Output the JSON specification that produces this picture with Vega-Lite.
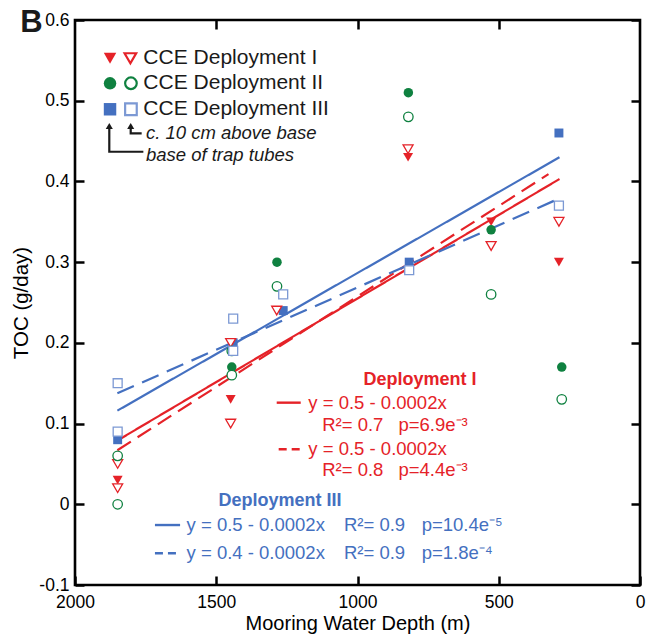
{
  "$schema": "https://vega.github.io/schema/vega-lite/v6.json",
  "width": 565,
  "height": 565,
  "autosize": {"type": "none"},
  "padding": {"left": 75, "top": 20, "right": 10, "bottom": 50},
  "background": "white",
  "config": {
    "view": {"stroke": "black", "strokeWidth": 2.6},
    "font": "Liberation Sans",
    "axis": {
      "domain": false, "grid": false, "ticks": true, "tickColor": "black", "tickWidth": 2.5, "tickSize": 9, "offset": -9,
      "labelColor": "black", "labelFont": "Liberation Sans", "labelFontSize": 17.5,
      "titleFont": "Liberation Sans", "titleFontWeight": "normal", "titleColor": "black", "titleFontSize": 20.5,
      "labelFlush": false, "labelOverlap": false
    }
  },
  "datasets": {
    "points": [
      {"dep": "I", "pos": "base", "depth": 1849, "toc": 0.03},
      {"dep": "I", "pos": "base", "depth": 1449, "toc": 0.13},
      {"dep": "I", "pos": "base", "depth": 821, "toc": 0.43},
      {"dep": "I", "pos": "base", "depth": 527, "toc": 0.35},
      {"dep": "I", "pos": "base", "depth": 287, "toc": 0.30},
      {"dep": "I", "pos": "above", "depth": 1849, "toc": 0.02},
      {"dep": "I", "pos": "above", "depth": 1849, "toc": 0.05},
      {"dep": "I", "pos": "above", "depth": 1449, "toc": 0.10},
      {"dep": "I", "pos": "above", "depth": 1449, "toc": 0.20},
      {"dep": "I", "pos": "above", "depth": 1286, "toc": 0.24},
      {"dep": "I", "pos": "above", "depth": 821, "toc": 0.44},
      {"dep": "I", "pos": "above", "depth": 527, "toc": 0.32},
      {"dep": "I", "pos": "above", "depth": 287, "toc": 0.35},
      {"dep": "II", "pos": "base", "depth": 1445, "toc": 0.17},
      {"dep": "II", "pos": "base", "depth": 1285, "toc": 0.30},
      {"dep": "II", "pos": "base", "depth": 820, "toc": 0.51},
      {"dep": "II", "pos": "base", "depth": 527, "toc": 0.34},
      {"dep": "II", "pos": "base", "depth": 277, "toc": 0.17},
      {"dep": "II", "pos": "above", "depth": 1849, "toc": 0.06},
      {"dep": "II", "pos": "above", "depth": 1849, "toc": 0.00},
      {"dep": "II", "pos": "above", "depth": 1445, "toc": 0.16},
      {"dep": "II", "pos": "above", "depth": 1445, "toc": 0.19},
      {"dep": "II", "pos": "above", "depth": 1285, "toc": 0.27},
      {"dep": "II", "pos": "above", "depth": 820, "toc": 0.48},
      {"dep": "II", "pos": "above", "depth": 527, "toc": 0.26},
      {"dep": "II", "pos": "above", "depth": 277, "toc": 0.13},
      {"dep": "III", "pos": "base", "depth": 1849, "toc": 0.08},
      {"dep": "III", "pos": "base", "depth": 1440, "toc": 0.20},
      {"dep": "III", "pos": "base", "depth": 1263, "toc": 0.24},
      {"dep": "III", "pos": "base", "depth": 817, "toc": 0.30},
      {"dep": "III", "pos": "base", "depth": 287, "toc": 0.46},
      {"dep": "III", "pos": "above", "depth": 1849, "toc": 0.15},
      {"dep": "III", "pos": "above", "depth": 1849, "toc": 0.09},
      {"dep": "III", "pos": "above", "depth": 1440, "toc": 0.23},
      {"dep": "III", "pos": "above", "depth": 1440, "toc": 0.19},
      {"dep": "III", "pos": "above", "depth": 1263, "toc": 0.26},
      {"dep": "III", "pos": "above", "depth": 817, "toc": 0.29},
      {"dep": "III", "pos": "above", "depth": 287, "toc": 0.37}
    ],
    "fits": [
      {"series": "I base", "dep": "I", "depth": 1850, "toc": 0.079},
      {"series": "I base", "dep": "I", "depth": 285, "toc": 0.403},
      {"series": "I above", "dep": "I", "depth": 1850, "toc": 0.067},
      {"series": "I above", "dep": "I", "depth": 324, "toc": 0.409},
      {"series": "III base", "dep": "III", "depth": 1850, "toc": 0.116},
      {"series": "III base", "dep": "III", "depth": 285, "toc": 0.43},
      {"series": "III above", "dep": "III", "depth": 1850, "toc": 0.1375},
      {"series": "III above", "dep": "III", "depth": 285, "toc": 0.379}
    ],
    "legendSymbols": [
      {"dep": "I", "pos": "base", "depth": 1876, "toc": 0.5526},
      {"dep": "I", "pos": "above", "depth": 1804, "toc": 0.5526},
      {"dep": "II", "pos": "base", "depth": 1876, "toc": 0.5216},
      {"dep": "II", "pos": "above", "depth": 1802, "toc": 0.5216},
      {"dep": "III", "pos": "base", "depth": 1876, "toc": 0.4894},
      {"dep": "III", "pos": "above", "depth": 1802, "toc": 0.4894}
    ],
    "arrows": [
      {"arrow": "a", "ord": 1, "depth": 1878.6, "toc": 0.4674},
      {"arrow": "a", "ord": 2, "depth": 1878.6, "toc": 0.4368},
      {"arrow": "a", "ord": 3, "depth": 1758, "toc": 0.4368},
      {"arrow": "b", "ord": 1, "depth": 1802.8, "toc": 0.4674},
      {"arrow": "b", "ord": 2, "depth": 1802.8, "toc": 0.4596},
      {"arrow": "b", "ord": 3, "depth": 1764, "toc": 0.4596}
    ],
    "arrowHeads": [
      {"arrow": "a", "depth": 1878.6, "toc": 0.4687},
      {"arrow": "b", "depth": 1802.8, "toc": 0.4687}
    ],
    "keys": [
      {"dep": "I", "kind": "solid", "x1": 1286, "x2": 1201, "toc": 0.1259},
      {"dep": "I", "kind": "dashed", "x1": 1279, "x2": 1201, "toc": 0.0681},
      {"dep": "III", "kind": "solid", "x1": 1717, "x2": 1628, "toc": -0.0257},
      {"dep": "III", "kind": "dashed", "x1": 1717, "x2": 1628, "toc": -0.0607}
    ],
    "labels": [
      {"style": "panel", "text": "B", "depth": 2194, "toc": 0.5963},
      {"style": "legend", "text": "CCE Deployment I", "depth": 1758, "toc": 0.5526},
      {"style": "legend", "text": "CCE Deployment II", "depth": 1758, "toc": 0.5216},
      {"style": "legend", "text": "CCE Deployment III", "depth": 1758, "toc": 0.4894},
      {"style": "italic", "text": "c. 10 cm above base", "depth": 1749, "toc": 0.4596},
      {"style": "italic", "text": "base of trap tubes", "depth": 1749, "toc": 0.4327},
      {"style": "redTitle", "text": "Deployment I", "depth": 779, "toc": 0.154},
      {"style": "red", "text": "y = 0.5 - 0.0002x", "depth": 1174, "toc": 0.1259},
      {"style": "red", "text": "R²= 0.7", "depth": 1125, "toc": 0.0982},
      {"style": "red", "text": "p=6.9e⁻³", "depth": 855, "toc": 0.0982},
      {"style": "red", "text": "y = 0.5 - 0.0002x", "depth": 1174, "toc": 0.0681},
      {"style": "red", "text": "R²= 0.8", "depth": 1125, "toc": 0.0425},
      {"style": "red", "text": "p=4.4e⁻³", "depth": 855, "toc": 0.0425},
      {"style": "blueTitle", "text": "Deployment III", "depth": 1274, "toc": 0.0041},
      {"style": "blue", "text": "y = 0.5 - 0.0002x", "depth": 1605, "toc": -0.0257},
      {"style": "blue", "text": "R²= 0.9", "depth": 1048, "toc": -0.0257},
      {"style": "blue", "text": "p=10.4e⁻⁵", "depth": 773, "toc": -0.0257},
      {"style": "blue", "text": "y = 0.4 - 0.0002x", "depth": 1605, "toc": -0.0607},
      {"style": "blue", "text": "R²= 0.9", "depth": 1048, "toc": -0.0607},
      {"style": "blue", "text": "p=1.8e⁻⁴", "depth": 773, "toc": -0.0607}
    ]
  },
  "layer": [
    {
      "data": {"name": "fits"},
      "mark": {"type": "line", "strokeWidth": 2.2},
      "encoding": {
        "x": {"field": "depth", "type": "quantitative",
          "scale": {"domain": [0, 2000], "reverse": true, "nice": false, "zero": false},
          "axis": {"values": [2000, 1500, 1000, 500, 0], "format": "d", "title": "Mooring Water Depth (m)", "labelPadding": 8, "titlePadding": 3, "titleFontSize": 20}},
        "y": {"field": "toc", "type": "quantitative",
          "scale": {"domain": [-0.1, 0.6], "nice": false, "zero": false},
          "axis": {"values": [-0.1, 0, 0.1, 0.2, 0.3, 0.4, 0.5, 0.6], "title": "TOC (g/day)", "labelPadding": 6, "titlePadding": 7,
            "labelExpr": "datum.value == 0 ? '0' : replace(format(datum.value, '.1f'), '\u2212', '-')"}},
        "color": {"field": "dep", "type": "nominal", "scale": {"domain": ["I", "II", "III"], "range": ["#e52228", "#0f8140", "#4470c0"]}, "legend": null},
        "strokeDash": {"field": "series", "type": "nominal", "scale": {"domain": ["I base", "I above", "III base", "III above"], "range": [[1, 0], [16, 8], [1, 0], [18, 9]]}, "legend": null},
        "detail": {"field": "series"}
      }
    },
    {
      "data": {"name": "points"},
      "transform": [{"filter": "datum.pos === 'base'"}],
      "mark": {"type": "point", "filled": true, "opacity": 1},
      "encoding": {
        "x": {"field": "depth", "type": "quantitative", "axis": {"orient": "top", "labels": false, "title": null, "values": [1500, 1000, 500]}},
        "y": {"field": "toc", "type": "quantitative", "axis": {"orient": "right", "labels": false, "title": null, "values": [-0.1, 0, 0.1, 0.2, 0.3, 0.4, 0.5, 0.6]}},
        "color": {"field": "dep", "type": "nominal", "legend": null},
        "shape": {"field": "dep", "type": "nominal", "scale": {"domain": ["I", "II", "III"], "range": ["triangle-down", "circle", "square"]}, "legend": null},
        "size": {"field": "dep", "type": "nominal", "scale": {"domain": ["I", "II", "III"], "range": [100, 80, 110]}, "legend": null}
      }
    },
    {
      "data": {"name": "points"},
      "transform": [{"filter": "datum.pos === 'above'"}],
      "mark": {"type": "point", "filled": false, "fill": "white", "fillOpacity": 1, "opacity": 1, "strokeWidth": 1.3},
      "encoding": {
        "x": {"field": "depth", "type": "quantitative", "axis": null},
        "y": {"field": "toc", "type": "quantitative", "axis": null},
        "stroke": {"field": "dep", "type": "nominal", "scale": {"domain": ["I", "II", "III"], "range": ["#e52228", "#0f8140", "#7c99d4"]}, "legend": null},
        "shape": {"field": "dep", "type": "nominal", "legend": null},
        "size": {"field": "dep", "type": "nominal", "legend": null}
      }
    },
    {
      "data": {"name": "legendSymbols"},
      "transform": [{"filter": "datum.pos === 'base'"}],
      "mark": {"type": "point", "filled": true, "opacity": 1, "size": 155},
      "encoding": {
        "x": {"field": "depth", "type": "quantitative", "axis": null},
        "y": {"field": "toc", "type": "quantitative", "axis": null},
        "color": {"field": "dep", "type": "nominal", "legend": null},
        "shape": {"field": "dep", "type": "nominal", "legend": null}
      }
    },
    {
      "data": {"name": "legendSymbols"},
      "transform": [{"filter": "datum.pos === 'above'"}],
      "mark": {"type": "point", "filled": false, "fill": "white", "fillOpacity": 1, "opacity": 1, "strokeWidth": 2.2, "size": 135},
      "encoding": {
        "x": {"field": "depth", "type": "quantitative", "axis": null},
        "y": {"field": "toc", "type": "quantitative", "axis": null},
        "stroke": {"field": "dep", "type": "nominal", "legend": null},
        "shape": {"field": "dep", "type": "nominal", "legend": null}
      }
    },
    {
      "data": {"name": "arrows"},
      "mark": {"type": "line", "color": "#1a1a1a", "strokeWidth": 2.2},
      "encoding": {
        "x": {"field": "depth", "type": "quantitative", "axis": null},
        "y": {"field": "toc", "type": "quantitative", "axis": null},
        "detail": {"field": "arrow"},
        "order": {"field": "ord"}
      }
    },
    {
      "data": {"name": "arrowHeads"},
      "mark": {"type": "point", "shape": "triangle-up", "filled": true, "color": "#1a1a1a", "opacity": 1, "size": 50},
      "encoding": {
        "x": {"field": "depth", "type": "quantitative", "axis": null},
        "y": {"field": "toc", "type": "quantitative", "axis": null}
      }
    },
    {
      "data": {"name": "keys"},
      "transform": [{"filter": "datum.kind === 'solid'"}],
      "mark": {"type": "rule", "strokeWidth": 2.4},
      "encoding": {
        "x": {"field": "x1", "type": "quantitative", "axis": null},
        "x2": {"field": "x2"},
        "y": {"field": "toc", "type": "quantitative", "axis": null},
        "color": {"field": "dep", "type": "nominal", "legend": null}
      }
    },
    {
      "data": {"name": "keys"},
      "transform": [{"filter": "datum.kind === 'dashed'"}],
      "mark": {"type": "rule", "strokeWidth": 2.4, "strokeDash": [8, 5]},
      "encoding": {
        "x": {"field": "x1", "type": "quantitative", "axis": null},
        "x2": {"field": "x2"},
        "y": {"field": "toc", "type": "quantitative", "axis": null},
        "color": {"field": "dep", "type": "nominal", "legend": null}
      }
    },
    {
      "data": {"name": "labels"},
      "transform": [{"filter": "datum.style === 'panel'"}],
      "mark": {"type": "text", "align": "left", "baseline": "middle", "fontSize": 31, "fontWeight": "bold", "color": "#1a1a1a"},
      "encoding": {
        "x": {"field": "depth", "type": "quantitative", "axis": null},
        "y": {"field": "toc", "type": "quantitative", "axis": null},
        "text": {"field": "text"}
      }
    },
    {
      "data": {"name": "labels"},
      "transform": [{"filter": "datum.style === 'legend'"}],
      "mark": {"type": "text", "align": "left", "baseline": "middle", "fontSize": 21, "color": "#1a1a1a"},
      "encoding": {
        "x": {"field": "depth", "type": "quantitative", "axis": null},
        "y": {"field": "toc", "type": "quantitative", "axis": null},
        "text": {"field": "text"}
      }
    },
    {
      "data": {"name": "labels"},
      "transform": [{"filter": "datum.style === 'italic'"}],
      "mark": {"type": "text", "align": "left", "baseline": "middle", "fontSize": 18.5, "fontStyle": "italic", "color": "#1a1a1a"},
      "encoding": {
        "x": {"field": "depth", "type": "quantitative", "axis": null},
        "y": {"field": "toc", "type": "quantitative", "axis": null},
        "text": {"field": "text"}
      }
    },
    {
      "data": {"name": "labels"},
      "transform": [{"filter": "datum.style === 'redTitle'"}],
      "mark": {"type": "text", "align": "center", "baseline": "middle", "fontSize": 18, "fontWeight": "bold", "color": "#e52228"},
      "encoding": {
        "x": {"field": "depth", "type": "quantitative", "axis": null},
        "y": {"field": "toc", "type": "quantitative", "axis": null},
        "text": {"field": "text"}
      }
    },
    {
      "data": {"name": "labels"},
      "transform": [{"filter": "datum.style === 'red'"}],
      "mark": {"type": "text", "align": "left", "baseline": "middle", "fontSize": 18.5, "color": "#e52228"},
      "encoding": {
        "x": {"field": "depth", "type": "quantitative", "axis": null},
        "y": {"field": "toc", "type": "quantitative", "axis": null},
        "text": {"field": "text"}
      }
    },
    {
      "data": {"name": "labels"},
      "transform": [{"filter": "datum.style === 'blueTitle'"}],
      "mark": {"type": "text", "align": "center", "baseline": "middle", "fontSize": 18, "fontWeight": "bold", "color": "#4470c0"},
      "encoding": {
        "x": {"field": "depth", "type": "quantitative", "axis": null},
        "y": {"field": "toc", "type": "quantitative", "axis": null},
        "text": {"field": "text"}
      }
    },
    {
      "data": {"name": "labels"},
      "transform": [{"filter": "datum.style === 'blue'"}],
      "mark": {"type": "text", "align": "left", "baseline": "middle", "fontSize": 18.5, "color": "#4470c0"},
      "encoding": {
        "x": {"field": "depth", "type": "quantitative", "axis": null},
        "y": {"field": "toc", "type": "quantitative", "axis": null},
        "text": {"field": "text"}
      }
    }
  ],
  "resolve": {"axis": {"x": "independent", "y": "independent"}}
}
